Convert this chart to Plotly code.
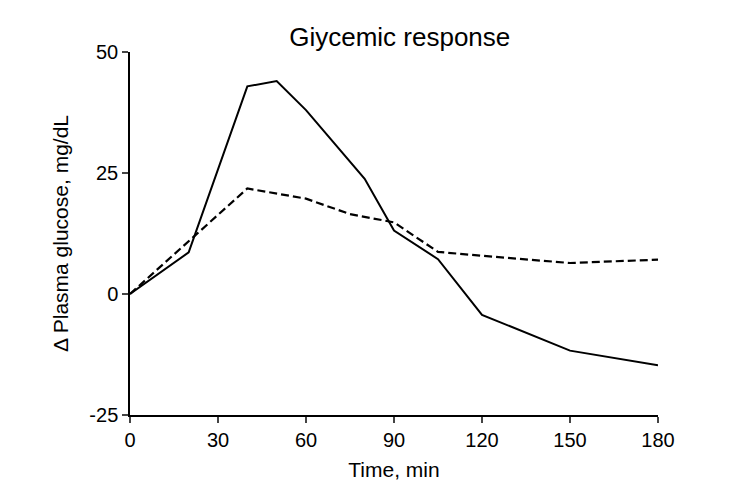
import plotly.graph_objects as go

time_solid = [0, 20, 40, 50, 60, 80, 90, 105, 120, 150, 180]
glucose_solid = [0, 8.6, 42.9, 44.0, 38.0, 23.8, 13.1, 7.2, -4.3, -11.7, -14.7]

time_dashed = [0, 20, 40, 60, 75, 90, 105, 120, 150, 180]
glucose_dashed = [0, 10.8, 21.8, 19.7, 16.5, 14.8, 8.7, 7.9, 6.4, 7.1]

x_ticks = [0, 30, 60, 90, 120, 150, 180]
y_ticks = [-25, 0, 25, 50]
y_tick_labels = ["-25", "0", "25", "50"]

font_family = "Liberation Sans, Arial, sans-serif"

fig = go.Figure()
fig.add_trace(go.Scatter(x=time_solid, y=glucose_solid, mode="lines",
                         line=dict(color="black", width=2), showlegend=False))
fig.add_trace(go.Scatter(x=time_dashed, y=glucose_dashed, mode="lines",
                         line=dict(color="black", width=2.2, dash="8px,4px"), showlegend=False))

fig.update_layout(
    width=743, height=497,
    margin=dict(l=130, r=85, t=52, b=82),
    paper_bgcolor="white", plot_bgcolor="white",
    font=dict(family=font_family, size=20, color="black"),
    title=dict(text="Giycemic response", x=0.538, xanchor="center", y=0.925, yanchor="middle",
               font=dict(size=26, family=font_family, color="black")),
)
fig.update_xaxes(range=[0, 180], tickvals=x_ticks, ticks="outside", ticklen=6, tickwidth=1.5,
                 showline=True, linewidth=1.5, linecolor="black", showgrid=False, zeroline=False,
                 title=dict(text="Time, min", font=dict(size=21), standoff=13),
                 tickfont=dict(size=20))
fig.update_yaxes(range=[-25, 50], tickvals=y_ticks, ticktext=y_tick_labels, ticks="outside",
                 ticklen=6, tickwidth=1.5,
                 showline=True, linewidth=1.5, linecolor="black", showgrid=False, zeroline=False,
                 title=dict(text="Δ Plasma glucose, mg/dL", font=dict(size=21), standoff=15),
                 tickfont=dict(size=20))

fig.write_html("out.html")
